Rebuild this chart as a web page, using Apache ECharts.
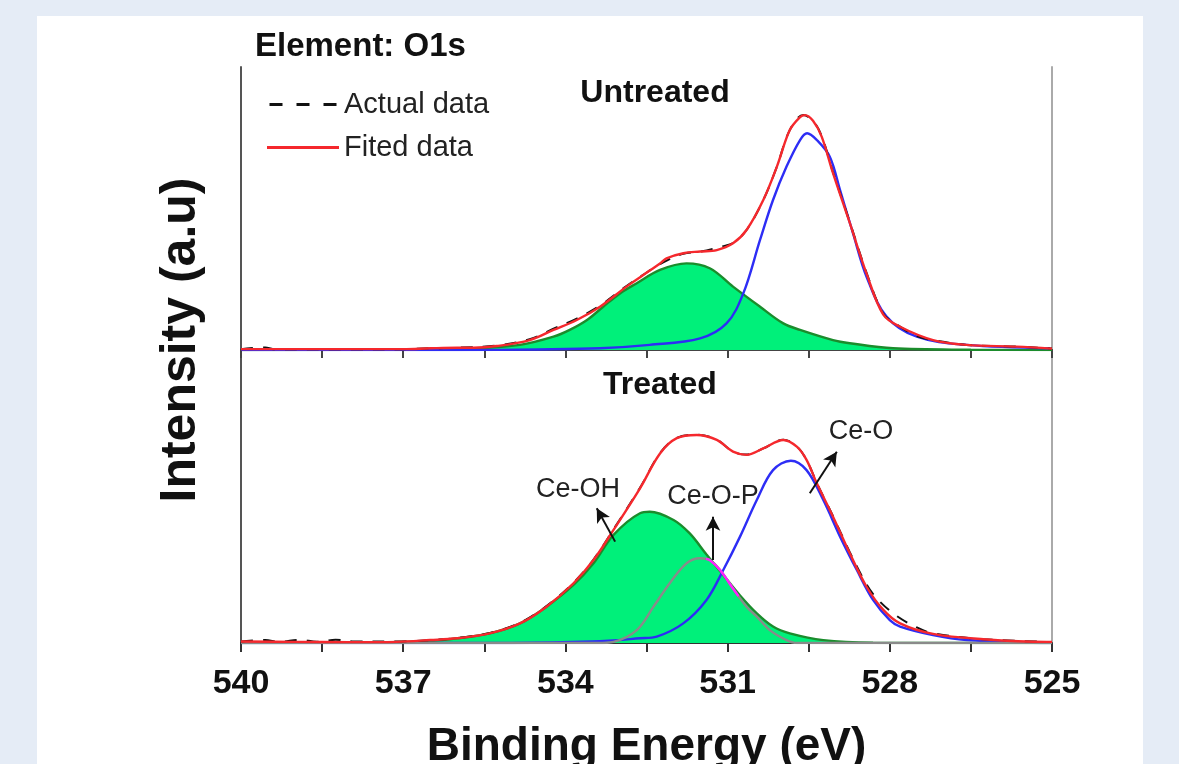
<!DOCTYPE html>
<html>
<head>
<meta charset="utf-8">
<script src="https://cdn.jsdelivr.net/npm/echarts@6/dist/echarts.min.js"></script>
<style>
  html, body { margin: 0; height: 100%; background: #e5ecf6; }
  #chart { width: 1179px; height: 764px; }
</style>
</head>
<body>
<div id="chart"></div>
<script>
// binding energy (eV) / intensity (a.u., 0-100 per panel)

// Untreated panel
var topFitE = [540, 539, 538, 537, 536.5, 536, 535.7, 535.27, 534.66, 534.22, 533.79, 533.36, 532.87, 532.56, 532.25, 532.13, 531.82, 531.51, 531.2, 530.9, 530.65, 530.34, 530.09, 529.85, 529.66, 529.57, 529.42, 529.26, 529.05, 528.74, 528.43, 528.12, 527.81, 527.2, 526.58, 525.66, 525];
var topFitI = [0.3, 0.3, 0.3, 0.3, 0.6, 0.8, 0.8, 1.4, 3.5, 7.1, 10.6, 15.3, 22.4, 26.5, 30.6, 32.4, 34.2, 34.8, 35.3, 37.7, 42.4, 53, 64.7, 77.7, 82.3, 83, 81, 75.4, 62.5, 44.9, 27, 12.5, 8.2, 3.5, 1.8, 1.2, 0.5];
var topActE = [540, 539.55, 539.4, 538, 537, 536.5, 536, 535.3, 534.66, 534.22, 533.79, 533.36, 532.87, 532.56, 532.2, 531.82, 531.5, 531.1, 530.9, 530.65, 530.34, 530.09, 529.85, 529.6, 529.42, 529.26, 529.05, 528.74, 528.43, 528.12, 527.87, 527.5, 527.2, 526.58, 525.66, 525];
var topActI = [0.3, 0.9, 0.3, 0.3, 0.3, 0.6, 0.8, 1.5, 3.8, 7.5, 11.1, 15.7, 22.6, 26.6, 30.9, 34.0, 34.8, 36.6, 37.8, 42.4, 53, 64.7, 77.7, 83, 81, 75.6, 62.8, 45.2, 27.3, 12.8, 9.0, 4.9, 3.5, 1.8, 1.2, 0.5];
var topOxE = [540, 536, 534.5, 533.36, 532.44, 531.51, 531.02, 530.71, 530.4, 530.16, 529.91, 529.66, 529.53, 529.35, 529.11, 528.92, 528.68, 528.43, 528.06, 527.5, 526.58, 525.04];
var topOxI = [0, 0, 0.2, 0.6, 1.8, 4.1, 9.4, 20, 38.9, 53, 64.8, 74.2, 76.6, 74.2, 68.3, 56.5, 41.2, 25.9, 11.8, 4.7, 1.8, 0.6];
var topOhE = [540, 537, 535.7, 534.84, 534.22, 533.92, 533.6, 533.3, 532.99, 532.68, 532.25, 531.76, 531.33, 530.9, 530.4, 529.97, 529.66, 529.05, 528.74, 527.94, 526.5, 525];
var topOhI = [0, 0.2, 0.6, 1.8, 4.7, 7.1, 10.6, 15.3, 20, 23.6, 28.3, 30.6, 28.9, 22.4, 15.3, 9.4, 7.1, 3.5, 2.4, 0.6, 0.1, 0];

// Treated panel
var botFitE = [540, 539, 538, 537.12, 536.5, 536.01, 535.4, 534.84, 534.35, 533.85, 533.48, 533.11, 532.62, 532.25, 531.94, 531.57, 531.2, 530.9, 530.65, 530.34, 529.97, 529.72, 529.54, 529.35, 529.05, 528.74, 528.43, 528.12, 527.81, 527.2, 526.27, 525.1, 525];
var botFitI = [0.5, 0.4, 0.3, 0.4, 1.0, 1.6, 3.3, 6.7, 12.4, 20.4, 28.3, 38.6, 52.8, 64.7, 69.9, 71, 69.3, 65.3, 64.2, 66.4, 69.3, 67, 62.5, 54.5, 43.1, 30.6, 19.2, 11.3, 6.7, 3.1, 1.3, 0.4, 0.4];
var botActE = [540, 539.55, 539.3, 538.9, 538.6, 538.25, 537.9, 537.12, 536.5, 536.01, 535.4, 534.84, 534.35, 533.85, 533.48, 533.11, 532.62, 532.25, 531.94, 531.57, 531.2, 530.9, 530.65, 530.34, 529.97, 529.72, 529.54, 529.35, 529.05, 528.74, 528.43, 528.24, 527.9, 527.5, 527.2, 526.27, 525.1];
var botActI = [0.5, 1.0, 0.4, 1.1, 0.4, 1.1, 0.5, 0.5, 1.0, 1.7, 3.4, 6.9, 12.6, 20.6, 28.5, 38.8, 53.0, 64.8, 70, 71.1, 69.4, 65.3, 64.3, 66.4, 69.4, 67.1, 62.5, 54.6, 43.3, 31, 20.0, 15.2, 9.6, 5.3, 3.3, 1.3, 0.4];
var botOhE = [540, 537.5, 536.5, 536.0, 535.4, 534.84, 534.35, 533.85, 533.48, 533.11, 532.62, 532.44, 532.0, 531.7, 531.39, 531.08, 530.77, 530.46, 530.16, 529.85, 529.23, 528.31, 527, 525];
var botOhI = [0, 0.2, 0.7, 1.6, 3.3, 6.7, 12.4, 19.8, 27.2, 36.9, 44.3, 44.8, 42, 37.4, 30.2, 23.2, 16.2, 10.1, 5.6, 3.3, 1.0, 0.1, 0, 0];
var botOxE = [540, 535, 533.5, 532.62, 532.31, 531.82, 531.39, 531.08, 530.77, 530.46, 530.16, 529.83, 529.54, 529.23, 528.92, 528.61, 528.31, 528.0, 527.81, 527.2, 526.58, 525.35, 525];
var botOxI = [0, 0, 0.5, 1.6, 2.2, 6.7, 14.7, 24.9, 36.3, 48.8, 59, 62.2, 59, 48.8, 36.3, 24.9, 14.7, 7.8, 5.6, 2.7, 1.0, 0.1, 0];
var botOpE = [540, 533.4, 533.11, 532.68, 532.37, 532.07, 531.76, 531.51, 531.33, 531.14, 530.9, 530.65, 530.46, 530.22, 529.91, 529.72, 525];
var botOpI = [0, 0, 0.4, 4.4, 12.4, 20.4, 27.2, 28.9, 28.3, 24.9, 18.6, 12.4, 9.0, 4.4, 1.0, 0, 0];
// part of the Ce-O-P curve that shows above the Ce-OH fill (drawn magenta)
var botOpHiE = [531.4, 531.33, 531.14, 530.9, 530.8];
var botOpHiI = [28.7, 28.3, 24.9, 18.6, 16.0];

var tickLabels = [540, 537, 534, 531, 528, 525];

// arrows in the treated panel: [tail, head] as [eV, intensity]
var arrows = [
  [[533.08, 34.6], [533.42, 46]],
  [[531.27, 28.3], [531.27, 43.1]],
  [[529.48, 51.1], [528.98, 65.3]]
];

function zip(e, v) {
  return e.map(function (x, i) { return [x, v[i]]; });
}

var FONT = "'Liberation Sans', Arial, sans-serif";
var RED = '#f5282d', BLUE = '#2d2df5', GREEN = '#00f07a', DKGREEN = '#1b8c2c';

// panel 0 = untreated (xAxis 0, yAxis 0), panel 1 = treated (xAxis 2, yAxis 1)
function lineSeries(name, data, color, panel, extra) {
  var s = {
    name: name, type: 'line', data: data,
    xAxisIndex: panel === 0 ? 0 : 2, yAxisIndex: panel,
    smooth: 0.35, showSymbol: false, symbol: 'none', animation: false, silent: true,
    lineStyle: { color: color, width: 2.4 }, itemStyle: { color: color }
  };
  if (extra) for (var k in extra) s[k] = extra[k];
  return s;
}

var chart = echarts.init(document.getElementById('chart'));

function xAxisOf(grid, pos, more) {
  var a = {
    type: 'value', gridIndex: grid, position: pos,
    min: 525, max: 540, interval: 1.5, inverse: true,
    splitLine: { show: false }
  };
  for (var k in more) a[k] = more[k];
  return a;
}
function yAxisOf(grid, pos, color) {
  return {
    type: 'value', gridIndex: grid, position: pos, min: 0, max: 100,
    axisLine: { show: true, lineStyle: { color: color, width: 2 } },
    axisTick: { show: false }, axisLabel: { show: false }, splitLine: { show: false }
  };
}

var option = {
  backgroundColor: '#e5ecf6',
  grid: [
    { left: 241, top: 67, width: 811, height: 283, outerBoundsMode: 'none' },
    { left: 241, top: 350, width: 811, height: 293, outerBoundsMode: 'none' }
  ],
  xAxis: [
    xAxisOf(0, 'bottom', {
      axisLine: { lineStyle: { color: '#444', width: 2 } },
      axisTick: { length: 8, lineStyle: { color: '#444', width: 2 } },
      axisLabel: { show: false }
    }),
    xAxisOf(0, 'top', {
      axisLine: { lineStyle: { color: '#444', width: 2 } },
      axisTick: { show: false }, axisLabel: { show: false }
    }),
    xAxisOf(1, 'bottom', {
      axisLine: { lineStyle: { color: '#333', width: 2 } },
      axisTick: { length: 9, lineStyle: { color: '#333', width: 2 } },
      axisLabel: {
        interval: 0, margin: 24, hideOverlap: false,
        color: '#111', fontFamily: FONT, fontWeight: 'bold', fontSize: 34,
        formatter: function (v) { return tickLabels.indexOf(v) >= 0 ? String(v) : ''; }
      },
      name: 'Binding Energy (eV)', nameLocation: 'middle', nameGap: 81,
      nameTextStyle: { color: '#111', fontFamily: FONT, fontWeight: 'bold', fontSize: 46 }
    })
  ],
  yAxis: [
    yAxisOf(0, 'left', '#555'),
    yAxisOf(1, 'left', '#555'),
    yAxisOf(0, 'right', '#aaa'),
    yAxisOf(1, 'right', '#aaa')
  ],
  legend: {
    orient: 'vertical', left: 262, top: 85, itemWidth: 72, itemHeight: 3, itemGap: 14,
    selectedMode: false,
    data: [
      { name: 'Actual data', icon: 'path://M0,0h13v3h-13z M27,0h13v3h-13z M54,0h13v3h-13z' },
      { name: 'Fited data', icon: 'rect' }
    ],
    textStyle: { color: '#222', fontFamily: FONT, fontSize: 29, lineHeight: 29 }
  },
  series: [
    // untreated
    lineSeries('O-H', zip(topOhE, topOhI), DKGREEN, 0, { areaStyle: { color: GREEN, opacity: 1 } }),
    lineSeries('O lattice', zip(topOxE, topOxI), BLUE, 0),
    lineSeries('Actual data', zip(topActE, topActI), '#111', 0, { lineStyle: { color: '#111', width: 2, type: [12, 10] } }),
    lineSeries('Fited data', zip(topFitE, topFitI), RED, 0),
    // treated
    lineSeries('Ce-OH', zip(botOhE, botOhI), DKGREEN, 1, { areaStyle: { color: GREEN, opacity: 1 } }),
    lineSeries('Ce-O', zip(botOxE, botOxI), BLUE, 1),
    lineSeries('Ce-O-P', zip(botOpE, botOpI), '#8a8a8a', 1, {
      markLine: {
        silent: true, animation: false, symbol: ['none', 'arrow'], symbolSize: [11, 14],
        label: { show: false }, lineStyle: { color: '#111', width: 2, type: 'solid' },
        data: arrows.map(function (a) { return [{ coord: a[0] }, { coord: a[1] }]; })
      }
    }),
    lineSeries('Ce-O-P edge', zip(botOpHiE, botOpHiI), '#ff22ff', 1),
    lineSeries('Actual data', zip(botActE, botActI), '#111', 1, { lineStyle: { color: '#111', width: 2, type: [12, 10] } }),
    lineSeries('Fited data', zip(botFitE, botFitI), RED, 1)
  ],
  graphic: [
    { type: 'rect', z: -10, shape: { x: 37, y: 16, width: 1106, height: 760 }, style: { fill: '#ffffff' } },
    { type: 'text', x: 255, y: 47, z: 100, style: { text: 'Element: O1s', font: 'bold 33px ' + FONT, fill: '#111', verticalAlign: 'middle' } },
    { type: 'text', x: 655, y: 93, z: 100, style: { text: 'Untreated', font: 'bold 32px ' + FONT, fill: '#111', align: 'center', verticalAlign: 'middle' } },
    { type: 'text', x: 660, y: 385, z: 100, style: { text: 'Treated', font: 'bold 32px ' + FONT, fill: '#111', align: 'center', verticalAlign: 'middle' } },
    { type: 'text', x: 181, y: 340, rotation: Math.PI / 2, z: 100, style: { text: 'Intensity (a.u)', font: 'bold 50px ' + FONT, fill: '#111', align: 'center', verticalAlign: 'middle' } },
    { type: 'text', x: 578, y: 490, z: 100, style: { text: 'Ce-OH', font: '27px ' + FONT, fill: '#222', align: 'center', verticalAlign: 'middle' } },
    { type: 'text', x: 713, y: 497, z: 100, style: { text: 'Ce-O-P', font: '27px ' + FONT, fill: '#222', align: 'center', verticalAlign: 'middle' } },
    { type: 'text', x: 861, y: 432, z: 100, style: { text: 'Ce-O', font: '27px ' + FONT, fill: '#222', align: 'center', verticalAlign: 'middle' } }
  ]
};

chart.setOption(option);
</script>
</body>
</html>
